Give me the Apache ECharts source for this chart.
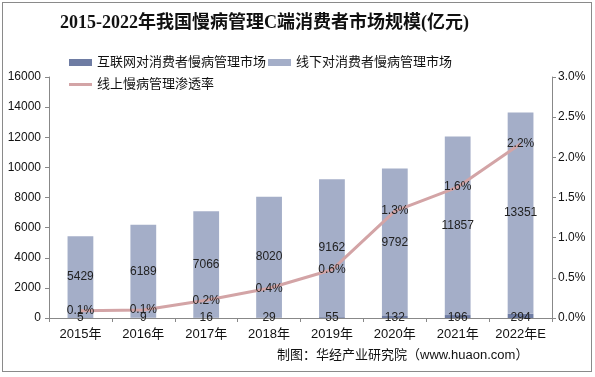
<!DOCTYPE html>
<html><head><meta charset="utf-8">
<script src="https://cdn.jsdelivr.net/npm/echarts@6/dist/echarts.min.js"></script>
<style>
html,body{margin:0;padding:0;background:#fff;}
#frame{position:absolute;left:2px;top:2px;width:588px;height:368px;border:1px solid #8a8a8a;}
#c{position:absolute;left:0;top:0;width:595px;height:377px;}
</style></head>
<body>
<div id="frame"></div>
<div id="c"></div>
<script>
var categories = ['2015年','2016年','2017年','2018年','2019年','2020年','2021年','2022年E'];
var internetMarket = [5, 9, 16, 29, 55, 132, 196, 294];
var offlineMarket = [5429, 6189, 7066, 8020, 9162, 9792, 11857, 13351];
var penetration = [0.09, 0.1, 0.22, 0.37, 0.6, 1.33, 1.63, 2.17];
var seriesNames = ['互联网对消费者慢病管理市场','线下对消费者慢病管理市场','线上慢病管理渗透率'];

var font = '"Liberation Sans", Arial, "Noto Sans CJK SC", sans-serif';
var legendBase = {left: 64, itemWidth: 23, itemHeight: 7, itemGap: 2,
  textStyle: {fontSize: 13, color: '#111', fontFamily: font}};
var chart = echarts.init(document.getElementById('c'));
chart.setOption({
  animation: false,
  textStyle: {fontFamily: font},
  title: {
    text: '2015-2022年我国慢病管理C端消费者市场规模(亿元)',
    left: 55, top: 9,
    textStyle: {fontSize: 18, fontWeight: 'bold', color: '#111', fontFamily: '"Liberation Serif","Noto Sans CJK SC", serif'}
  },
  graphic: [{
    type: 'text', left: 277, top: 349,
    style: {text: '制图：华经产业研究院（www.huaon.com）', fill: '#111', font: '13px ' + font}
  }],
  legend: [
    Object.assign({}, legendBase, {top: 51, data: [
      {name: seriesNames[0], icon: 'rect'},
      {name: seriesNames[1], icon: 'rect'}
    ]}),
    Object.assign({}, legendBase, {top: 73, data: [
      {name: seriesNames[2], icon: 'path://M0,0 L23,0 L23,3 L0,3 Z', itemStyle: {color: '#d3a4a6'}}
    ]})
  ],
  grid: {left: 49, right: 43, top: 77, bottom: 59},
  xAxis: {
    type: 'category', data: categories,
    axisLine: {lineStyle: {color: '#888'}},
    axisTick: {show: true, length: 4, lineStyle: {color: '#888'}},
    axisLabel: {color: '#111', fontSize: 13, margin: 10, interval: 0}
  },
  yAxis: [{
    type: 'value', min: 0, max: 16000, interval: 2000,
    axisLine: {show: true, lineStyle: {color: '#888'}},
    axisTick: {show: true, length: 4, lineStyle: {color: '#888'}},
    axisLabel: {color: '#111', fontSize: 12, margin: 8, formatter: function(v){return String(v);}},
    splitLine: {show: false}
  }, {
    type: 'value', min: 0, max: 3, interval: 0.5,
    axisLine: {show: true, lineStyle: {color: '#888'}},
    axisTick: {show: true, length: 4, lineStyle: {color: '#888'}},
    axisLabel: {color: '#111', fontSize: 12, margin: 6, formatter: function(v){return v.toFixed(1)+'%';}},
    splitLine: {show: false}
  }],
  series: [{
    name: seriesNames[0], type: 'bar', stack: 'm', data: internetMarket, barWidth: '41%',
    itemStyle: {color: '#6e7ca3'},
    label: {show: true, position: 'insideBottom', distance: -6, color: '#222', fontSize: 12}
  }, {
    name: seriesNames[1], type: 'bar', stack: 'm', data: offlineMarket, barWidth: '41%',
    itemStyle: {color: '#a4aec8'},
    label: {show: true, position: 'inside', color: '#222', fontSize: 12}
  }, {
    name: seriesNames[2], type: 'line', yAxisIndex: 1, data: penetration,
    symbol: 'circle', symbolSize: 1, showAllSymbol: true, z: 5,
    lineStyle: {color: '#d3a4a6', width: 3},
    itemStyle: {color: '#d3a4a6'},
    label: {show: true, position: 'inside', color: '#222', fontSize: 12,
      formatter: function(p){return (Math.round(p.value*10)/10).toFixed(1)+'%';}}
  }]
});
</script>
</body></html>
